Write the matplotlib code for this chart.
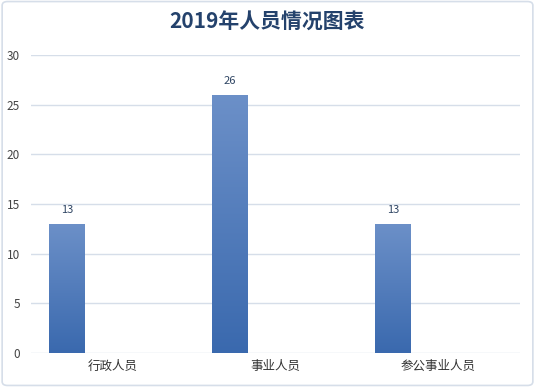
import numpy as np
import matplotlib
matplotlib.use("Agg")
import matplotlib.pyplot as plt
from matplotlib.patches import FancyBboxPatch

plt.rcParams['font.family'] = ['Noto Sans CJK SC', 'DejaVu Sans']

title = "2019年人员情况图表"
categories = ["行政人员", "事业人员", "参公事业人员"]
values = [13, 26, 13]
yticks = [0, 5, 10, 15, 20, 25, 30]

fig = plt.figure(figsize=(5.35, 3.87), dpi=100)
ax = fig.add_axes([31 / 535, 34 / 387, 489 / 535, 298 / 387])

x = np.arange(len(categories))
w = 0.22
off = -0.28

# vertical gradient, light at top, darker at bottom
grad = np.linspace(0, 1, 256).reshape(-1, 1)
cmap = matplotlib.colors.LinearSegmentedColormap.from_list("g", ["#6C90C8", "#3A69AE"])

bars = ax.bar(x + off, values, width=w, color="none", edgecolor="none", zorder=3)
for b, v in zip(bars, values):
    x0, y0 = b.get_x(), b.get_y()
    im = ax.imshow(grad, cmap=cmap, aspect="auto", origin="upper",
                   extent=[x0, x0 + b.get_width(), y0, y0 + b.get_height()], zorder=3)
    im.set_clip_path(b)
    ax.text(x0 + b.get_width() / 2, v + 0.9, str(v), ha="center", va="bottom",
            fontsize=8, color="#2F4563", zorder=4)

ax.set_xlim(-0.5, len(categories) - 0.5)
ax.set_ylim(0, 30)
ax.set_yticks(yticks)
ax.set_xticks(x)
ax.set_xticklabels(categories, fontsize=9, color="#333333")
ax.tick_params(axis="y", labelsize=8.5, colors="#444444", length=0, pad=8)
ax.tick_params(axis="x", length=0, pad=5)
ax.grid(axis="y", color="#D6DEE9", lw=1, zorder=0)
for s in ax.spines.values():
    s.set_visible(False)
ax.set_axisbelow(True)

fig.text(0.5, 1 - 22 / 387, title, ha="center", va="center", fontsize=15,
         fontweight="bold", color="#24426C")

border = FancyBboxPatch((0.004, 0.004), 0.992, 0.992, boxstyle="round,pad=0,rounding_size=0.01",
                        transform=fig.transFigure, fill=False, edgecolor="#D6DEE9", lw=1.2)
fig.patches.append(border)

fig.savefig("out.png", dpi=100)
